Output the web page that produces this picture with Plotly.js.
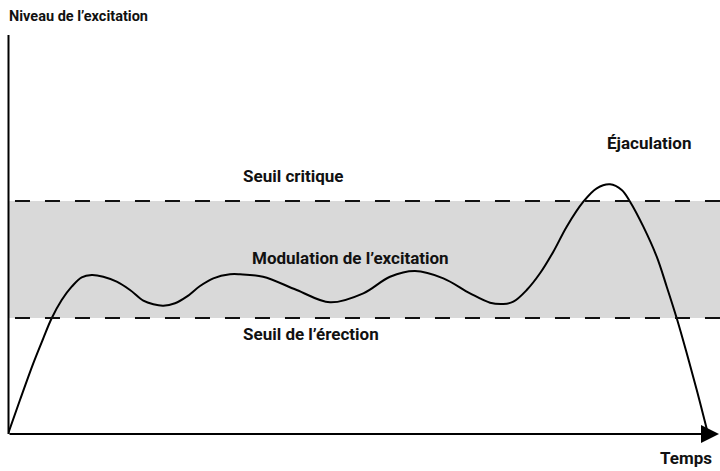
<!DOCTYPE html>
<html>
<head>
<meta charset="utf-8">
<script src="https://cdn.plot.ly/plotly-3.0.1.min.js"></script>
<style>html,body{margin:0;padding:0;background:#fff;}#chart{width:720px;height:471px;}</style>
</head>
<body>
<div id="chart"></div>
<script>
// Time (arbitrary units) and excitation level (arbitrary units)
const temps = [0, 1.71, 3.61, 5.04, 6.24, 7.67, 9.10, 10.53, 11.96, 13.61, 15.53, 17.43, 19.33, 20.76, 22.19, 23.86, 25.53, 27.43, 29.33, 31.71, 33.14, 36.43, 41.24, 46.0, 50.76, 54.57, 58.14, 62.19, 66.0, 68.86, 70.76, 72.19, 74.1, 76.0, 77.9, 79.81, 82.19, 84.1, 86.0, 87.67, 88.86, 90.76, 92.67, 94.1, 95.53, 96.96, 98.39, 100];
const niveau = [0, 8.52, 17.72, 23.98, 29.0, 33.58, 36.92, 39.27, 39.85, 39.42, 38.17, 36.09, 33.41, 32.51, 32.16, 32.76, 34.41, 37.09, 39.02, 40.03, 40.03, 39.42, 36.09, 33.0, 35.26, 39.42, 40.85, 39.02, 35.26, 32.91, 32.58, 33.16, 36.09, 40.28, 45.69, 51.96, 58.22, 61.58, 62.58, 61.15, 58.22, 51.96, 44.44, 36.92, 29.0, 20.23, 11.03, 0];
const seuilErection = 29.1;
const seuilCritique = 58.4;
const labels = {
  yTitle: "Niveau de l’excitation",
  xTitle: "Temps",
  critique: "Seuil critique",
  modulation: "Modulation de l’excitation",
  erection: "Seuil de l’érection",
  ejac: "Éjaculation"
};

const xMax = 101.71;
const fam = "Roboto, 'Noto Sans', sans-serif";
const font = {family: fam, size: 17, color: "#111"};
const titleFont = {family: fam, size: 14.5, color: "#111"};

const trace = {
  x: temps, y: niveau, type: "scatter", mode: "lines",
  line: {color: "#000", width: 2, shape: "spline", smoothing: 1},
  hoverinfo: "skip", cliponaxis: false
};

function ann(text, x, y, anchor, f) {
  return {text: "<b>" + text + "</b>", xref: "paper", yref: "paper", x: x, y: y,
          xanchor: anchor || "left", yanchor: "middle", showarrow: false, font: f || font};
}

const layout = {
  width: 720, height: 471,
  margin: {l: 8, r: 0, t: 35, b: 37},
  paper_bgcolor: "#fff", plot_bgcolor: "#fff",
  showlegend: false,
  xaxis: {range: [0, xMax], visible: false, fixedrange: true},
  yaxis: {range: [0, 100], visible: false, fixedrange: true},
  shapes: [
    {type: "rect", layer: "below", xref: "paper", yref: "y", x0: 0, x1: 1, y0: seuilErection, y1: seuilCritique,
     fillcolor: "#d9d9d9", line: {width: 0}},
    {type: "line", xref: "paper", yref: "y", x0: 0.0098, x1: 1, y0: seuilCritique, y1: seuilCritique,
     line: {color: "#111", width: 2, dash: "15px,15px"}},
    {type: "line", xref: "paper", yref: "y", x0: 0.0098, x1: 1, y0: seuilErection, y1: seuilErection,
     line: {color: "#111", width: 2, dash: "15px,15px"}},
    {type: "line", xref: "paper", yref: "paper", x0: 0.0007, x1: 0.0007, y0: 0, y1: 1,
     line: {color: "#000", width: 2}}
  ],
  annotations: [
    {xref: "paper", yref: "y", x: 1, y: 0, ax: -712, ay: 0, text: "", showarrow: true,
     arrowhead: 2, arrowsize: 1.8, arrowwidth: 2, arrowcolor: "#000", standoff: 0},
    ann(labels.yTitle, -0.002, 1.0476, "left", titleFont),
    ann(labels.critique, 0.3272, 0.6466),
    ann(labels.modulation, 0.3399, 0.4411),
    ann(labels.erection, 0.3272, 0.2506),
    ann(labels.ejac, 0.8385, 0.7293),
    ann(labels.xTitle, 0.9915, -0.0602, "right")
  ]
};

Plotly.newPlot("chart", [trace], layout, {displayModeBar: false, staticPlot: true});
</script>
</body>
</html>
